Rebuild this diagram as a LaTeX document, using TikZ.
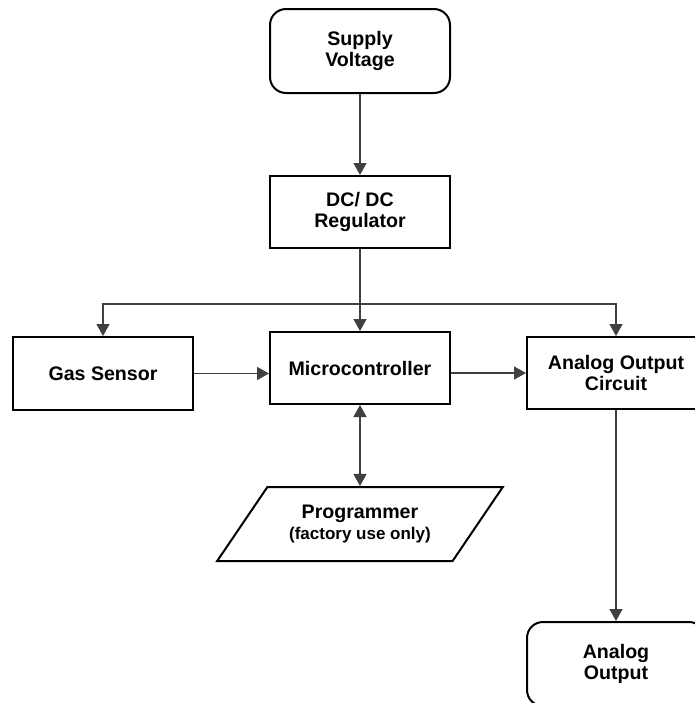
\documentclass[tikz,border=0pt]{standalone}
\usepackage{fontspec}
\setmainfont{Liberation Sans}
\usetikzlibrary{positioning,shapes.geometric,arrows.meta}

\begin{document}
\begin{tikzpicture}[
x=0.5pt,y=-0.5pt,
>={Triangle[length=6pt,width=6.5pt]},
block/.style={
  draw,
  line width=1pt,
  minimum width=90pt,
  minimum height=36pt,
  inner sep=0pt,
  align=center,
  font=\fontsize{9.8}{10.7}\selectfont\bfseries},
endblock/.style={
  block,
  rounded corners=8pt,
  minimum height=42pt},
link/.style={
  draw=black!75,
  line width=0.75pt,
  ->}
]
\useasboundingbox (0,0) rectangle (695,703);
\node[endblock] (supply) at (360,51) {Supply\\Voltage};
\node[block] (dcdc) at (360,212) {DC/ DC\\Regulator};
\node[block,minimum height=36.5pt] (gas) at (103,373.5) {Gas Sensor};
\node[block] (micro) at (360,368) {Microcontroller};
\node[block,minimum width=89pt] (aoc) at (616,373) {Analog Output\\Circuit};
\node[endblock,minimum width=89pt] (aout) at (616,664) {Analog\\Output};
\node[block,trapezium,trapezium left angle=45,trapezium right angle=135,
  trapezium stretches=true,minimum width=143pt,minimum height=37pt]
  (prog) at (360,524) {Programmer\\{\fontsize{8.5}{10.7}\selectfont(factory use only)}};
\coordinate (split) at (360,304);

\draw[link] (supply) -- (dcdc);
\draw[link] (dcdc) -- (micro);
\draw[link] (split) -| (gas);
\draw[link] (split) -| (aoc);
\draw[link] (gas.east) -- (gas.east -| micro.west);
\draw[link] (aoc.west -| micro.east) -- (aoc.west);
\draw[link] (aoc) -- (aout);
\draw[link,<->] (micro) -- (prog);
\end{tikzpicture}
\end{document}
